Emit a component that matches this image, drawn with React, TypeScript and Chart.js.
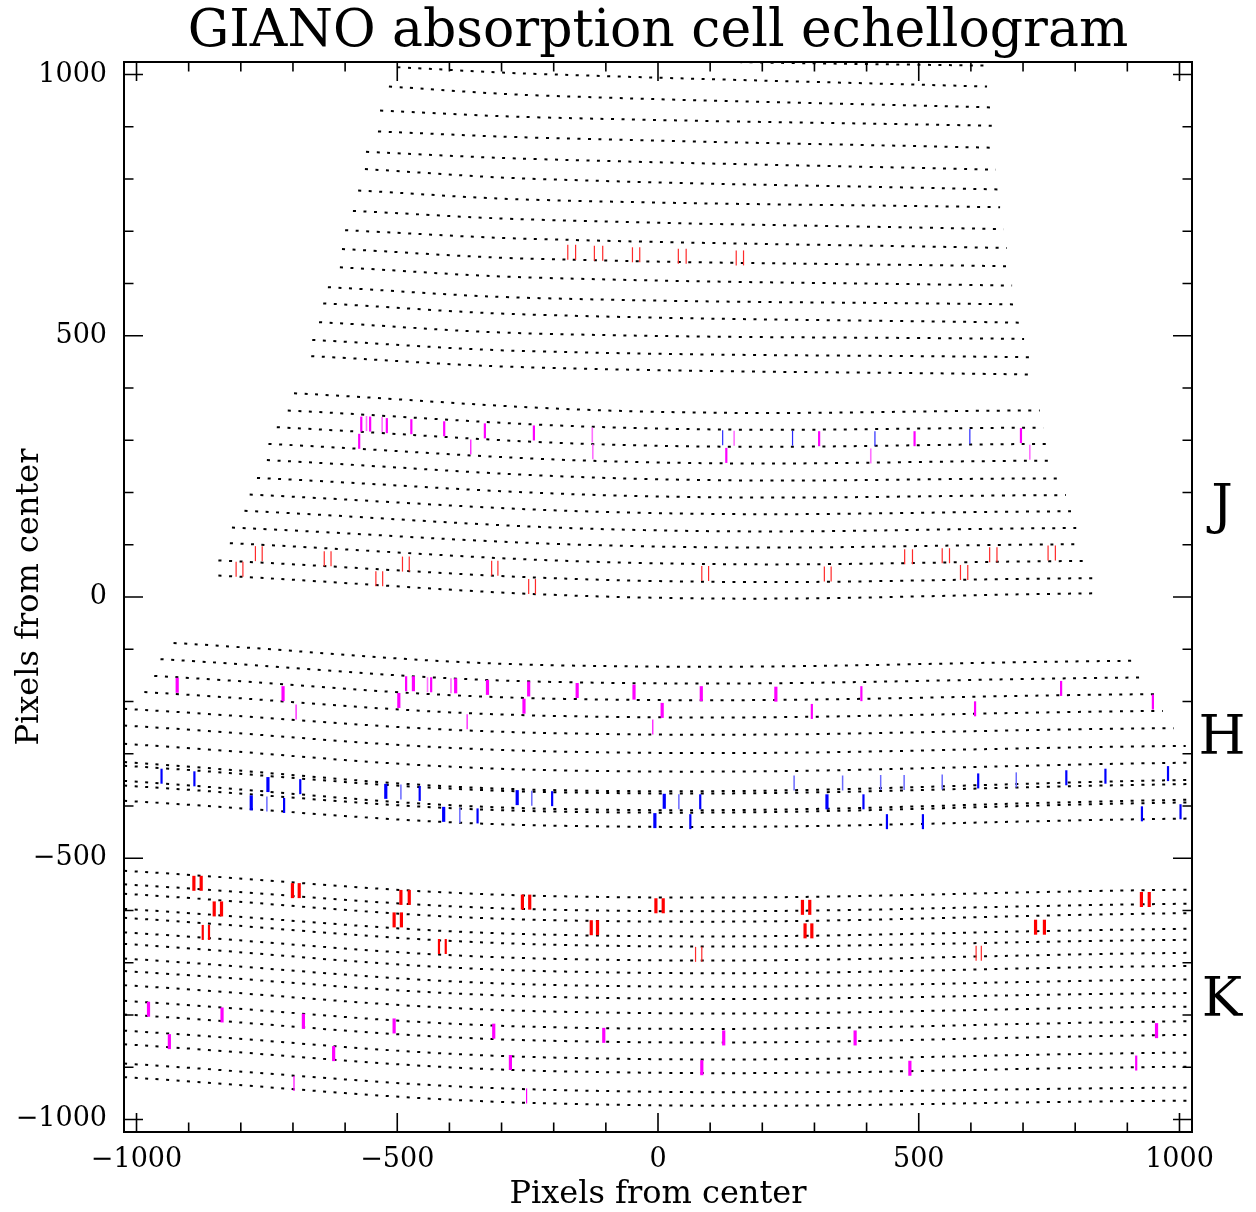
import React, { useEffect, useRef } from 'react';
import { Chart, registerables } from 'chart.js';

Chart.register(...registerables);

const FONT = "'DejaVu Serif', 'Liberation Serif', serif";

// ---- text & axes ----
const chartTitle = 'GIANO absorption cell echellogram';
const xAxisLabel = 'Pixels from center';
const yAxisLabel = 'Pixels from center';
const axisMin = -1024;
const axisMax = 1024;
const tickLabelValues = [-1000, -500, 0, 500, 1000];
const minorTickStep = 100;
const majorTickStep = 500;
const bandNames = ['J', 'H', 'K'];
const bandNameY = [168, -274, -775];

// ---- echelle order traces: [xLeft, yLeft, xMid, yMid, xRight, yRight] ----
const ordersJUpper = [
  [-227, 1035, 99, 1025, 629, 1017],
  [-500, 1014, -227, 1001, 631, 977],
  [-516, 977, -227, 960, 640, 937],
  [-533, 931, -227, 918, 640, 902],
  [-537, 891, -227, 879, 638, 860],
  [-560, 852, -227, 838, 648, 818],
  [-562, 819, -227, 800, 657, 780],
  [-575, 778, -227, 760, 656, 746],
  [-585, 739, -227, 722, 663, 704],
  [-600, 702, -227, 685, 669, 668],
  [-606, 666, -227, 647, 677, 633],
  [-610, 631, -227, 611, 679, 596],
  [-633, 593, -227, 572, 686, 560],
  [-642, 562, -227, 540, 698, 525],
  [-650, 526, -227, 504, 702, 494],
  [-663, 492, -227, 470, 712, 459],
  [-665, 461, -227, 439, 710, 426],
];

const ordersJLower = [
  [-698, 390, -26, 355, 732, 357],
  [-710, 357, -26, 323, 739, 324],
  [-731, 325, -26, 290, 746, 293],
  [-747, 293, -26, 258, 756, 261],
  [-750, 262, -26, 226, 770, 227],
  [-769, 228, -26, 193, 782, 195],
  [-783, 196, -26, 161, 792, 164],
  [-793, 165, -26, 128, 802, 132],
  [-817, 133, -26, 97, 812, 101],
  [-821, 103, -26, 65, 825, 69],
  [-843, 70, -26, 31, 839, 36],
  [-843, 41, -26, -1, 839, 7],
];

const ordersH = [
  [-929, -88, -179, -131, 920, -122],
  [-954, -119, -179, -163, 936, -154],
  [-966, -151, -179, -195, 952, -186],
  [-985, -182, -179, -228, 968, -218],
  [-1024, -214, -179, -261, 989, -251],
  [-1024, -246, -179, -296, 1012, -285],
  [-1024, -281, -179, -332, 1024, -317],
  [-1024, -316, -179, -370, 1024, -350],
  [-1024, -323, -179, -374, 1024, -358],
  [-1024, -352, -179, -406, 1024, -388],
  [-1024, -361, -179, -411, 1024, -393],
  [-1024, -390, -179, -438, 1024, -424],
];

const ordersK = [
  [-1024, -524, -179, -573, 1024, -560],
  [-1024, -550, -179, -599, 1024, -587],
  [-1024, -568, -179, -619, 1024, -605],
  [-1024, -597, -179, -647, 1024, -635],
  [-1024, -614, -179, -666, 1024, -656],
  [-1024, -642, -179, -693, 1024, -681],
  [-1024, -664, -179, -717, 1024, -706],
  [-1024, -692, -179, -743, 1024, -732],
  [-1024, -716, -179, -766, 1024, -758],
  [-1024, -743, -179, -794, 1024, -784],
  [-1024, -773, -179, -824, 1024, -812],
  [-1024, -799, -179, -850, 1024, -838],
  [-1024, -830, -179, -882, 1024, -872],
  [-1024, -856, -179, -908, 1024, -899],
  [-1024, -893, -179, -944, 1024, -939],
  [-1024, -919, -179, -970, 1024, -964],
];

// ---- absorption lines: [x, y] ----
const redThinLines = [
  [-173, 660], [-158, 660], [-122, 658], [-106, 658], [-49, 655], [-35, 655],
  [39, 652], [54, 652], [150, 649], [164, 649],
  [-809, 53], [-796, 53], [-772, 83], [-759, 83], [-640, 73], [-627, 73],
  [-541, 35], [-528, 35], [-490, 63], [-477, 63], [-319, 55], [-307, 55],
  [-248, 20], [-235, 20], [84, 45], [97, 45], [319, 44], [332, 44],
  [473, 77], [488, 77], [545, 79], [559, 79], [580, 47], [594, 47],
  [636, 81], [650, 81], [748, 84], [762, 84],
  [72, -684], [84, -684], [610, -682], [620, -682],
];
const redMediumLines = [[-873, -642], [-861, -642], [-420, -669], [-407, -669]];
const redThickLines = [
  [-890, -548], [-876, -548], [-701, -562], [-688, -562], [-851, -597], [-837, -597],
  [-493, -575], [-477, -575], [-506, -618], [-492, -618], [-260, -584], [-246, -584],
  [-4, -591], [10, -591], [277, -594], [291, -594], [-128, -633], [-116, -633],
  [282, -639], [295, -639], [724, -632], [741, -632], [927, -579], [942, -579],
];
const magentaThickLines = [
  [-922, -169], [-719, -185], [-497, -198], [-469, -166], [-388, -170], [-327, -173],
  [-248, -176], [-257, -209], [-155, -179], [-46, -182], [83, -185], [226, -186], [8, -217],
  [-977, -789], [-836, -800], [-680, -812], [-506, -821], [-315, -831], [-937, -851],
  [-622, -874], [-283, -891], [-104, -839], [126, -844], [378, -844], [956, -830],
  [84, -901], [483, -902],
];
const magentaMediumLines = [
  [-569, 331], [-552, 331], [-520, 328], [-473, 326], [-410, 322], [-332, 318], [-238, 314],
  [-573, 298], [131, 271], [309, 303], [492, 303], [696, 309],
  [-483, -166], [-435, -168], [390, -185], [773, -175], [295, -219], [608, -214], [949, -201],
  [917, -892],
];
const magentaThinLines = [
  [-359, 287], [-694, -220], [-366, -239], [-10, -249], [-698, -931], [-252, -955],
];
const magentaLightLines = [
  [-559, 332], [-529, 330], [-126, 310], [-125, 278], [146, 304], [408, 270], [713, 277],
  [-442, -168], [-397, -170],
];
const blueThinLines = [[124, 305], [258, 304], [416, 303], [598, 307]];
const blueThickLines = [
  [-748, -359], [-780, -394], [-522, -372], [-411, -416], [-270, -384], [12, -391],
  [324, -392], [-6, -428],
];
const blueMediumLines = [
  [-952, -343], [-889, -348], [-686, -363], [-717, -399], [-457, -376], [-346, -419],
  [-203, -386], [81, -392], [394, -392], [614, -352], [783, -346], [858, -343], [978, -338],
  [62, -430], [439, -430], [508, -430], [928, -415], [1002, -411],
];
const blueLightLines = [
  [-750, -396], [-493, -373], [-380, -418], [-242, -385], [40, -392], [261, -356],
  [354, -356], [427, -355], [472, -355], [545, -354], [687, -350],
];

const toPoints = (t: number[]) => [
  { x: t[0], y: t[1] },
  { x: t[2], y: t[3] },
  { x: t[4], y: t[5] },
];

const fmt = (v: number) => (v < 0 ? '\u2212' + Math.abs(v) : String(v));

const frameTicksPlugin = {
  id: 'frameTicks',
  afterLayout(chart: any) {
    // centre the title over the plotting frame
    const tb = chart.titleBlock;
    const a = chart.chartArea;
    if (tb && a) {
      tb.left = a.left;
      tb.right = a.right;
      tb.width = a.right - a.left;
    }
  },
  afterDatasetsDraw(chart: any) {
    const { ctx, chartArea: a, scales } = chart;
    const xs = scales.x;
    const ys = scales.y;
    ctx.save();
    ctx.strokeStyle = '#000';
    ctx.lineWidth = 2;
    ctx.strokeRect(a.left, a.top, a.right - a.left, a.bottom - a.top);
    ctx.lineWidth = 1.6;
    ctx.beginPath();
    for (let v = -1000; v <= 1000; v += minorTickStep) {
      const len = v % majorTickStep === 0 ? 19 : 9.5;
      const px = xs.getPixelForValue(v);
      ctx.moveTo(px, a.bottom);
      ctx.lineTo(px, a.bottom - len);
      ctx.moveTo(px, a.top);
      ctx.lineTo(px, a.top + len);
      const py = ys.getPixelForValue(v);
      ctx.moveTo(a.left, py);
      ctx.lineTo(a.left + len, py);
      ctx.moveTo(a.right, py);
      ctx.lineTo(a.right - len, py);
    }
    ctx.stroke();
    ctx.restore();
  },
  afterDraw(chart: any) {
    const { ctx, chartArea: a, scales } = chart;
    ctx.save();
    ctx.fillStyle = '#000';
    ctx.font = `54px ${FONT}`;
    ctx.textAlign = 'center';
    ctx.textBaseline = 'middle';
    bandNames.forEach((name, i) => {
      ctx.fillText(name, a.right + 30, scales.y.getPixelForValue(bandNameY[i]));
    });
    ctx.restore();
  },
};

export default function App() {
  const ref = useRef<HTMLCanvasElement | null>(null);

  useEffect(() => {
    if (!ref.current) return;
    const traceSets = [ordersJUpper, ordersJLower, ordersH, ordersK];
    const traceDatasets: any[] = [];
    traceSets.forEach((set) =>
      set.forEach((t) =>
        traceDatasets.push({
          data: toPoints(t),
          showLine: true,
          pointRadius: 0,
          borderColor: '#000',
          borderWidth: 2,
          borderDash: [3, 7.5],
          borderCapStyle: 'butt',
          tension: 0.4,
          fill: false,
          order: 2,
        })
      )
    );
    const markSpec: [number[][], string, number][] = [
      [redThinLines, '#ff2a2a', 1.2],
      [redMediumLines, '#ff0000', 2.2],
      [redThickLines, '#ff0000', 3.2],
      [magentaThickLines, '#ff00ff', 3.2],
      [magentaMediumLines, '#ff00ff', 2.2],
      [magentaThinLines, '#ff00ff', 1.2],
      [magentaLightLines, '#ff70ff', 1.6],
      [blueThinLines, '#2a2aff', 1.2],
      [blueThickLines, '#0000ff', 3.2],
      [blueMediumLines, '#0000ff', 2.2],
      [blueLightLines, '#6a6aff', 1.5],
    ];
    const markDatasets = markSpec.map(([pts, color, w]) => ({
      data: pts.map((p) => ({ x: p[0], y: p[1] })),
      showLine: false,
      pointStyle: 'line',
      rotation: 90,
      pointRadius: 7.5,
      pointBorderWidth: w,
      borderWidth: w,
      borderColor: color,
      pointBorderColor: color,
      backgroundColor: color,
      order: 1,
    }));

    const chart = new Chart(ref.current, {
      type: 'scatter',
      data: { datasets: [...markDatasets, ...traceDatasets] as any },
      options: {
        animation: false,
        responsive: true,
        maintainAspectRatio: false,
        events: [],
        layout: { padding: { left: 0, right: 64, top: 0, bottom: 0 } },
        plugins: {
          legend: { display: false },
          tooltip: { enabled: false },
          title: {
            display: true,
            text: chartTitle,
            color: '#000',
            font: { family: FONT, size: 52, weight: 'normal', lineHeight: 1 },
            padding: { top: 6, bottom: 4 },
          },
        },
        scales: {
          x: {
            type: 'linear',
            position: 'bottom',
            min: axisMin,
            max: axisMax,
            afterBuildTicks: (s: any) => {
              s.ticks = tickLabelValues.map((v) => ({ value: v }));
            },
            afterFit: (s: any) => {
              s.height = 80;
            },
            grid: { display: false, drawTicks: false },
            border: { display: false },
            ticks: {
              color: '#000',
              font: { family: FONT, size: 27 },
              padding: 12,
              maxRotation: 0,
              autoSkip: false,
              callback: (v: any) => fmt(Number(v)),
            },
            title: {
              display: true,
              text: xAxisLabel,
              color: '#000',
              font: { family: FONT, size: 32, lineHeight: 1 },
              padding: { top: 0, bottom: 1 },
            },
          },
          y: {
            type: 'linear',
            position: 'left',
            min: axisMin,
            max: axisMax,
            afterBuildTicks: (s: any) => {
              s.ticks = tickLabelValues.map((v) => ({ value: v }));
            },
            afterFit: (s: any) => {
              s.width = 124;
            },
            grid: { display: false, drawTicks: false },
            border: { display: false },
            ticks: {
              color: '#000',
              font: { family: FONT, size: 27 },
              padding: 17,
              autoSkip: false,
              callback: (v: any) => fmt(Number(v)),
            },
            title: {
              display: true,
              text: yAxisLabel,
              color: '#000',
              font: { family: FONT, size: 32, lineHeight: 1 },
              padding: { top: 14, bottom: 0 },
            },
          },
        },
      } as any,
      plugins: [frameTicksPlugin],
    });
    return () => chart.destroy();
  }, []);

  return (
    <div style={{ position: 'absolute', left: 0, top: 0, width: 1256, height: 1212 }}>
      <canvas ref={ref} />
    </div>
  );
}
